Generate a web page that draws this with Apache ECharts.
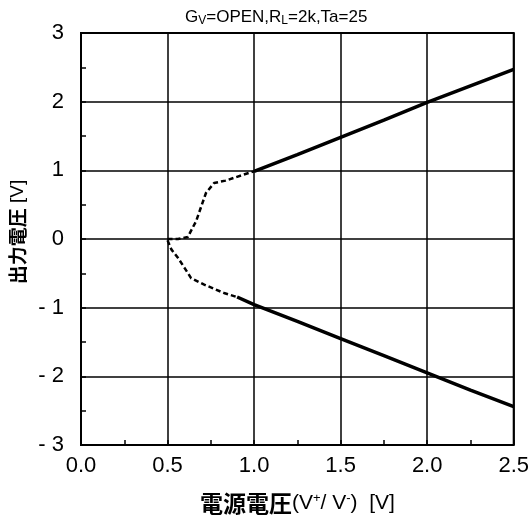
<!DOCTYPE html>
<html>
<head>
<meta charset="utf-8">
<script src="https://cdn.jsdelivr.net/npm/echarts@6/dist/echarts.min.js"></script>
<style>
  html, body { margin: 0; padding: 0; background: #fff; }
  #chart { width: 532px; height: 531px; }
</style>
</head>
<body>
<div id="chart"></div>
<script>
// Output voltage vs. supply voltage (V+/V-), Gv=OPEN, RL=2k, Ta=25
// Positive output swing: transition region (dashed) and linear region (solid)
const upperDashX = [0.50, 0.56, 0.617, 0.665, 0.722, 0.769, 0.835, 0.939, 1.00];
const upperDashY = [0.00, 0.00, 0.03, 0.26, 0.67, 0.815, 0.85, 0.937, 0.985];
const upperSolidX = [1.00, 1.25, 1.50, 1.75, 2.00, 2.25, 2.50];
const upperSolidY = [0.985, 1.23, 1.48, 1.73, 1.99, 2.23, 2.47];

// Negative output swing
const lowerDashX = [0.50, 0.523, 0.561, 0.598, 0.636, 0.712, 0.826, 0.902];
const lowerDashY = [-0.02, -0.155, -0.277, -0.42, -0.57, -0.665, -0.786, -0.845];
const lowerSolidX = [0.902, 1.00, 1.25, 1.50, 1.75, 2.00, 2.25, 2.50];
const lowerSolidY = [-0.845, -0.955, -1.20, -1.45, -1.70, -1.95, -2.20, -2.44];

const xTicks = [0.0, 0.5, 1.0, 1.5, 2.0, 2.5];
const yTicks = [-3, -2, -1, 0, 1, 2, 3];

const pairs = (xs, ys) => xs.map((x, i) => [x, ys[i]]);

const latin = '"Liberation Sans", Arial, sans-serif';
const cjk = '"Noto Sans CJK JP", sans-serif';

const dashStyle = { color: '#000', width: 2.5, type: [5, 3] };
const solidStyle = { color: '#000', width: 3.5, type: 'solid' };

const chart = echarts.init(document.getElementById('chart'), null, { renderer: 'canvas' });

chart.setOption({
  animation: false,
  backgroundColor: '#fff',
  title: {
    text: 'G{sub|V}=OPEN,R{sub|L}=2k,Ta=25',
    left: 180,
    top: 3,
    textStyle: {
      fontFamily: latin,
      fontSize: 17,
      fontWeight: 'normal',
      color: '#000',
      rich: {
        sub: { fontFamily: latin, fontSize: 12, color: '#000', padding: [7, 0, 0, 0] }
      }
    }
  },
  grid: {
    left: 81, right: 11, top: 33, bottom: 86,
    show: true, borderColor: '#000', borderWidth: 2,
    containLabel: false
  },
  xAxis: {
    type: 'value',
    min: xTicks[0],
    max: xTicks[xTicks.length - 1],
    interval: 0.5,
    axisLine: { show: false, onZero: false },
    axisTick: { show: true, inside: true, length: 5, lineStyle: { color: '#000', width: 1.5 } },
    minorTick: { show: true, splitNumber: 2, length: 5, lineStyle: { color: '#000', width: 1.5 } },
    splitLine: { show: true, lineStyle: { color: '#000', width: 1.5 } },
    axisLabel: {
      margin: 10,
      fontFamily: latin,
      fontSize: 22,
      color: '#000',
      formatter: v => v.toFixed(1)
    },
    name: '{b|電源電圧}{n|(V}{sup|+}{n|/ V}{sup|-}{n|)  [V]}',
    nameLocation: 'middle',
    nameGap: 47,
    nameTextStyle: {
      color: '#000',
      rich: {
        b: { fontFamily: cjk, fontSize: 23, fontWeight: 'bold', color: '#000' },
        n: { fontFamily: latin, fontSize: 21, color: '#000' },
        sup: { fontFamily: latin, fontSize: 13, color: '#000', padding: [0, 0, 10, 0] }
      }
    }
  },
  yAxis: {
    type: 'value',
    min: yTicks[0],
    max: yTicks[yTicks.length - 1],
    interval: 1,
    axisLine: { show: false, onZero: false },
    axisTick: { show: true, inside: true, length: 5, lineStyle: { color: '#000', width: 1.5 } },
    minorTick: { show: true, splitNumber: 2, length: 5, lineStyle: { color: '#000', width: 1.5 } },
    splitLine: { show: true, lineStyle: { color: '#000', width: 1.5 } },
    axisLabel: {
      margin: 17,
      fontFamily: latin,
      fontSize: 22,
      color: '#000',
      formatter: v => (v < 0 ? '- ' + Math.abs(v) : String(v))
    },
    name: '{b|出力電圧}{n| [V]}',
    nameLocation: 'middle',
    nameRotate: 90,
    nameGap: 52,
    nameTextStyle: {
      color: '#000',
      padding: [0, 0, 0, 14],
      rich: {
        b: { fontFamily: cjk, fontSize: 19, fontWeight: 'bold', color: '#000' },
        n: { fontFamily: latin, fontSize: 19, color: '#000' }
      }
    }
  },
  series: [
    { name: 'upper-transition', type: 'line', data: pairs(upperDashX, upperDashY),
      showSymbol: false, lineStyle: dashStyle },
    { name: 'upper-linear', type: 'line', data: pairs(upperSolidX, upperSolidY),
      showSymbol: false, lineStyle: solidStyle },
    { name: 'lower-transition', type: 'line', data: pairs(lowerDashX, lowerDashY),
      showSymbol: false, lineStyle: dashStyle },
    { name: 'lower-linear', type: 'line', data: pairs(lowerSolidX, lowerSolidY),
      showSymbol: false, lineStyle: solidStyle }
  ]
});
</script>
</body>
</html>
